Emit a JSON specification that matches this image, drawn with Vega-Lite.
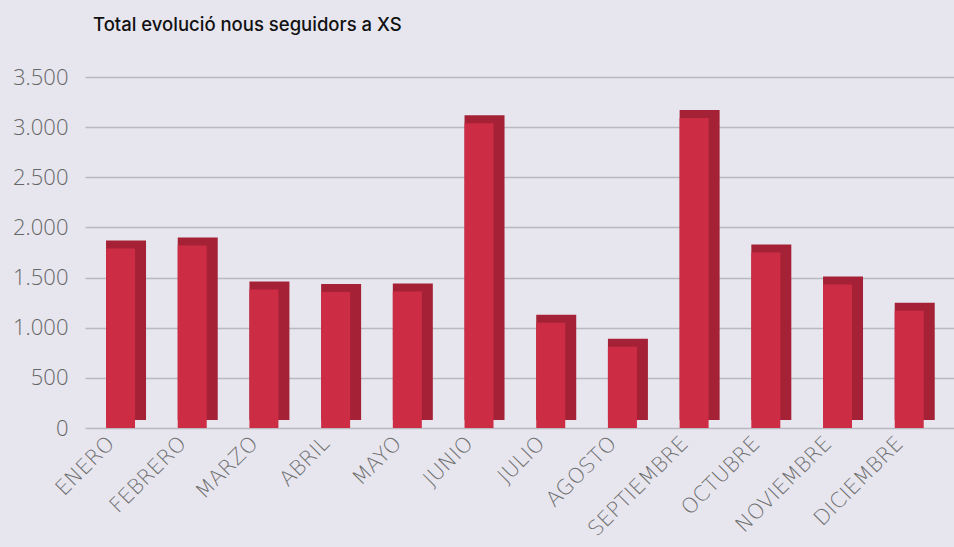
{
  "$schema": "https://vega.github.io/schema/vega-lite/v6.json",
  "autosize": "none",
  "width": 869,
  "height": 351,
  "padding": {"left": 85, "top": 77, "right": 0, "bottom": 119},
  "background": "#E7E6EF",
  "title": {
    "text": "Total evolució nous seguidors a XS",
    "anchor": "start",
    "frame": "group",
    "dx": 8,
    "offset": 32,
    "font": "Inter",
    "fontSize": 18.5,
    "fontWeight": 500,
    "color": "#111111"
  },
  "config": {
    "view": {"stroke": null},
    "font": "Open Sans"
  },
  "data": {
    "values": [
      {"mes": "ENERO", "seguidors": 1790},
      {"mes": "FEBRERO", "seguidors": 1820},
      {"mes": "MARZO", "seguidors": 1380},
      {"mes": "ABRIL", "seguidors": 1355},
      {"mes": "MAYO", "seguidors": 1360},
      {"mes": "JUNIO", "seguidors": 3040},
      {"mes": "JULIO", "seguidors": 1050},
      {"mes": "AGOSTO", "seguidors": 810},
      {"mes": "SEPTIEMBRE", "seguidors": 3090},
      {"mes": "OCTUBRE", "seguidors": 1750},
      {"mes": "NOVIEMBRE", "seguidors": 1430},
      {"mes": "DICIEMBRE", "seguidors": 1170}
    ]
  },
  "encoding": {
    "x": {
      "field": "mes",
      "type": "nominal",
      "sort": null,
      "title": null,
      "scale": {"paddingInner": 0.5, "paddingOuter": 0.31, "align": 0.396},
      "axis": {
        "labelAngle": -45,
        "labelAlign": "right",
        "labelBaseline": "middle",
        "labelPadding": 12,
        "labelOffset": -9,
        "labelFont": "DejaVu Sans",
        "labelFontSize": 21,
        "labelFontWeight": 200,
        "labelColor": "#707070",
        "labelOverlap": false,
        "ticks": false,
        "domain": false
      }
    },
    "y": {
      "field": "seguidors",
      "type": "quantitative",
      "title": null,
      "scale": {"domain": [0, 3500], "nice": false},
      "axis": {
        "values": [0, 500, 1000, 1500, 2000, 2500, 3000, 3500],
        "labelExpr": "replace(format(datum.value, ','), ',', '.')",
        "labelFont": "Open Sans",
        "labelFontSize": 22,
        "labelFontWeight": 300,
        "labelColor": "#666666",
        "labelPadding": 17,
        "ticks": false,
        "domain": false,
        "grid": true,
        "gridColor": "#B9B9C0",
        "gridWidth": 1.5
      }
    }
  },
  "layer": [
    {
      "mark": {"type": "bar", "width": 40, "xOffset": 5.5, "yOffset": -8, "color": "#A52236"}
    },
    {
      "mark": {"type": "bar", "width": 29, "color": "#CC2D45"}
    }
  ]
}
